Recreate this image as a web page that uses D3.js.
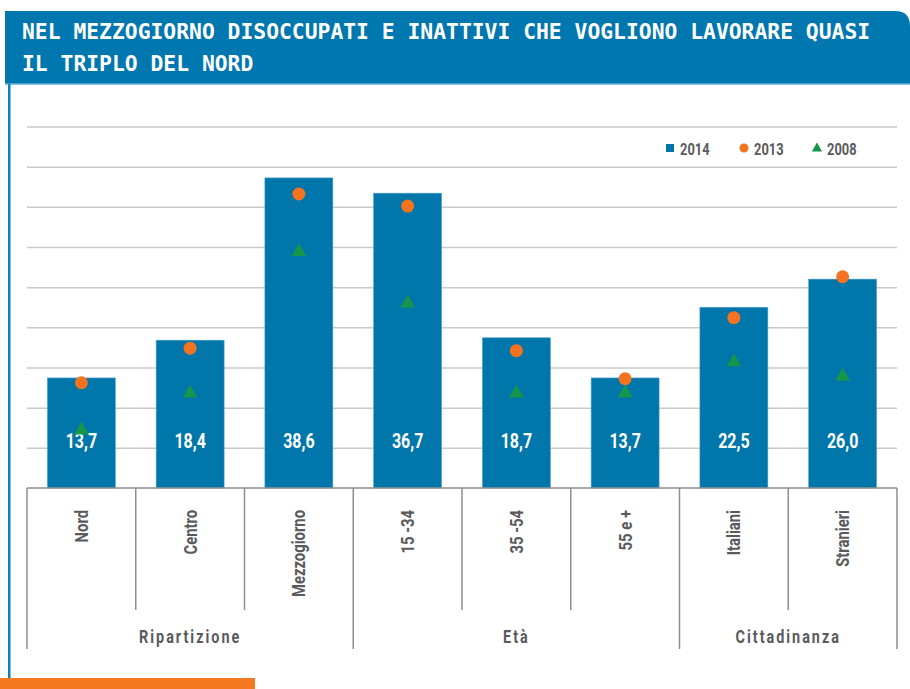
<!DOCTYPE html>
<html>
<head>
<meta charset="utf-8">
<script src="https://cdn.jsdelivr.net/npm/d3@7"></script>
<style>
  body { margin: 0; background: #fff; }
  svg { display: block; }
</style>
</head>
<body>
<div id="chart"></div>
<script>
// data
var categories = ["Nord", "Centro", "Mezzogiorno", "15 -34", "35 -54", "55 e +", "Italiani", "Stranieri"];
var values2014 = [13.7, 18.4, 38.6, 36.7, 18.7, 13.7, 22.5, 26.0];
var values2013 = [13.1, 17.4, 36.6, 35.1, 17.1, 13.6, 21.2, 26.3];
var values2008 = [7.2, 11.8, 29.4, 23.0, 11.8, 11.8, 15.7, 13.9];
var groupNames = ["Ripartizione", "Età", "Cittadinanza"];
var groupSizes = [3, 3, 2];
var yTicks = [0, 5, 10, 15, 20, 25, 30, 35, 40, 45];
var seriesNames = ["2014", "2013", "2008"];

var W = 910, H = 689;
var blue = "#0076ab", orange = "#f37321", green = "#15964b", grey = "#595a5c";
var font = "Roboto, 'Liberation Sans', sans-serif";

var svg = d3.select("#chart").append("svg")
  .attr("width", W).attr("height", H);

// condensed text: a group at the anchor, text squeezed horizontally
function narrowText(parent, tx, ty, rot, sx, txt) {
  var g = parent.append("g")
    .attr("transform", "translate(" + tx + "," + ty + ")" + (rot ? " rotate(" + rot + ")" : ""));
  return g.append("text")
    .attr("transform", "scale(" + sx + ",1)")
    .attr("font-family", font)
    .attr("font-weight", "bold")
    .text(txt);
}

// title band with rounded top right corner
svg.append("path")
  .attr("d", "M5,11 H895 Q910,11 910,26 V84 H5 Z")
  .attr("fill", "#0077ae");
svg.append("line")
  .attr("x1", 5).attr("x2", 910).attr("y1", 84).attr("y2", 84)
  .attr("stroke", "#5fb0d8").attr("stroke-width", 1.5);

var titleLines = ["NEL MEZZOGIORNO DISOCCUPATI E INATTIVI CHE VOGLIONO LAVORARE QUASI", "IL TRIPLO DEL NORD"];
svg.selectAll(".title").data(titleLines).enter().append("text")
  .attr("x", 22)
  .attr("y", function(d, i) { return 39 + i * 32; })
  .attr("font-family", "'DejaVu Sans Mono', monospace")
  .attr("font-weight", "bold")
  .attr("font-size", 22)
  .attr("fill", "#fff")
  .attr("textLength", function(d) { return d.length * 12.85; })
  .attr("lengthAdjust", "spacingAndGlyphs")
  .text(function(d) { return d; });

// frame line on the left
svg.append("rect")
  .attr("x", 8).attr("y", 84).attr("width", 2.5).attr("height", 594)
  .attr("fill", "#0a82bf");

// orange footer strip
svg.append("rect")
  .attr("x", 0).attr("y", 678).attr("width", 255).attr("height", 11)
  .attr("fill", "#f47920");

// scales
var x = d3.scaleBand()
  .domain(categories)
  .range([27, 897])
  .paddingInner(0.375)
  .paddingOuter(0.1875);
var step = x.step();
var y = d3.scaleLinear().domain([0, 45]).range([488, 126.5]);

// gridlines
svg.append("g")
  .attr("transform", "translate(27,0)")
  .call(d3.axisLeft(y).tickValues(yTicks.slice(1)).tickSize(-870).tickFormat(""))
  .call(function(g) {
    g.select(".domain").remove();
    g.selectAll("line").attr("stroke", "#c9c9c9").attr("stroke-width", 1.5);
  });

// bars
svg.selectAll(".bar").data(values2014).enter().append("rect")
  .attr("x", function(d, i) { return x(categories[i]); })
  .attr("y", function(d) { return y(d); })
  .attr("width", x.bandwidth())
  .attr("height", function(d) { return y(0) - y(d); })
  .attr("fill", blue)
  .attr("stroke", "#4fa3cf")
  .attr("stroke-width", 0.6);

// value labels inside bars
values2014.forEach(function(v, i) {
  narrowText(svg, x(categories[i]) + x.bandwidth() / 2, 448, 0, 0.8, v.toFixed(1).replace(".", ","))
    .attr("text-anchor", "middle")
    .attr("font-size", 20)
    .attr("fill", "#fff");
});

// 2013 dots
svg.selectAll(".dot").data(values2013).enter().append("circle")
  .attr("cx", function(d, i) { return x(categories[i]) + x.bandwidth() / 2; })
  .attr("cy", function(d) { return y(d); })
  .attr("r", 6.5)
  .attr("fill", orange);

// 2008 triangles
var tri = d3.symbol().type(d3.symbolTriangle).size(95);
svg.selectAll(".tri").data(values2008).enter().append("path")
  .attr("d", tri)
  .attr("transform", function(d, i) {
    return "translate(" + (x(categories[i]) + x.bandwidth() / 2) + "," + y(d) + ")";
  })
  .attr("fill", green);

// category axis: baseline and dividers
var axisColor = "#8e8e8e";
svg.append("line")
  .attr("x1", 27).attr("x2", 897).attr("y1", y(0)).attr("y2", y(0))
  .attr("stroke", axisColor).attr("stroke-width", 1.5);

var groupEdges = [0];
groupSizes.forEach(function(n) { groupEdges.push(groupEdges[groupEdges.length - 1] + n); });

d3.range(categories.length + 1).forEach(function(i) {
  var isGroupEdge = groupEdges.indexOf(i) >= 0;
  svg.append("line")
    .attr("x1", 27 + i * step).attr("x2", 27 + i * step)
    .attr("y1", y(0)).attr("y2", isGroupEdge ? 649 : 610)
    .attr("stroke", axisColor).attr("stroke-width", 1.5);
});

// rotated category labels
categories.forEach(function(c) {
  narrowText(svg, x(c) + x.bandwidth() / 2 + 6.5, 510, -90, 0.8, c)
    .attr("text-anchor", "end")
    .attr("font-size", 18.5)
    .attr("fill", grey);
});

// group labels
groupNames.forEach(function(name, i) {
  var cx = 27 + (groupEdges[i] + groupEdges[i + 1]) / 2 * step;
  narrowText(svg, cx, 643, 0, 0.8, name)
    .attr("text-anchor", "middle")
    .attr("font-size", 18)
    .attr("letter-spacing", 2.5)
    .attr("fill", grey);
});

// legend
var legendX = [666, 740, 813];
var legend = svg.append("g");
legendX.forEach(function(lx, i) {
  var g = legend.append("g").attr("transform", "translate(" + lx + ",148)");
  if (i === 0) {
    g.append("rect").attr("x", 0).attr("y", -4).attr("width", 8).attr("height", 8).attr("fill", blue);
  } else if (i === 1) {
    g.append("circle").attr("cx", 4).attr("cy", 0).attr("r", 4.5).attr("fill", orange);
  } else {
    g.append("path").attr("d", d3.symbol().type(d3.symbolTriangle).size(45))
      .attr("transform", "translate(4,0.5)").attr("fill", green);
  }
  narrowText(g, 14, 6.5, 0, 0.78, seriesNames[i])
    .attr("font-size", 16.5)
    .attr("fill", grey);
});
</script>
</body>
</html>
